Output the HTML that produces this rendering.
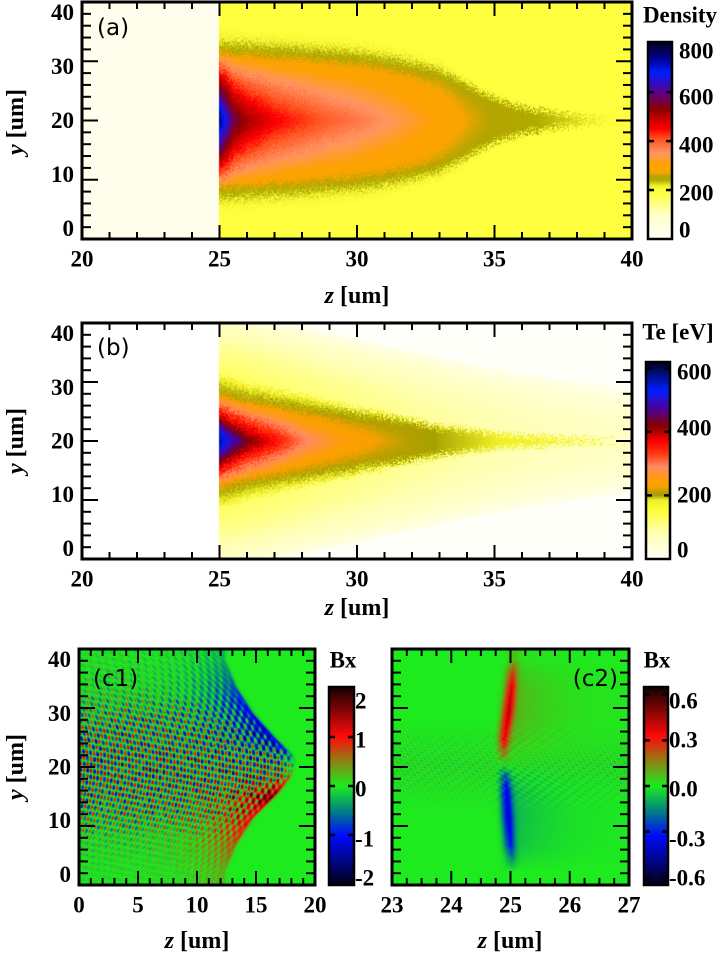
<!DOCTYPE html>
<html><head><meta charset="utf-8">
<style>
html,body{margin:0;padding:0;background:#fff;}
#root{position:relative;width:722px;height:958px;overflow:hidden;font-family:"Liberation Serif","DejaVu Serif",serif;}
canvas{position:absolute;}
svg{position:absolute;left:0;top:0;}
svg text{font-family:"Liberation Serif","DejaVu Serif",serif;font-weight:bold;}
svg text.pl{font-family:"DejaVu Sans","Liberation Sans",sans-serif;font-weight:normal;}
</style></head>
<body>
<div id="root">
<canvas id="ca" width="550" height="237" style="left:82px;top:2px"></canvas>
<canvas id="cb" width="550" height="236" style="left:82px;top:323px"></canvas>
<canvas id="cc1" width="236" height="236" style="left:79px;top:649px"></canvas>
<canvas id="cc2" width="237" height="236" style="left:392px;top:649px"></canvas>
<canvas id="cba" width="24" height="197" style="left:648px;top:42px"></canvas>
<canvas id="cbb" width="24" height="197" style="left:646px;top:362px"></canvas>
<canvas id="cbc1" width="25" height="198" style="left:329px;top:687px"></canvas>
<canvas id="cbc2" width="24" height="198" style="left:644px;top:687px"></canvas>
<svg id="ov" width="722" height="958"></svg>
</div>
<script>
// ---- data arrays ----
const zGridA = [25, 25.5, 26, 27, 28, 29, 30, 31, 32, 33, 34, 35, 36, 37, 38, 39, 40];
const densityPeak = [760, 580, 520, 460, 430, 400, 380, 355, 330, 300, 270, 255, 245, 235, 225, 215, 205];
const densityEdge = [15.5, 15.3, 15.1, 14.8, 14.4, 14, 13.5, 12.7, 11.5, 10, 7.2, 4.2, 2.6, 1.6, 0.9, 0.4, 0];
const zGridB = [25, 25.4, 26, 27, 28, 29, 30, 31, 33, 35, 37, 40];
const tePeak = [590, 510, 440, 370, 305, 268, 242, 222, 198, 186, 176, 160];
const teEdge = [11, 10.5, 9.5, 8.5, 7.5, 6.5, 5.5, 4.6, 2.6, 1.3, 0.6, 0];
const teBase = [150, 148, 145, 138, 130, 122, 115, 108, 95, 82, 70, 60];
const teWidth = [22, 22, 21.5, 20.5, 19.5, 18.5, 17.5, 16.5, 14.5, 12.5, 11, 9];
const yFront = [0, 5, 10, 15, 18, 20, 22, 25, 30, 35, 40];
const zFront = [12.3, 13.2, 14.6, 16.8, 17.9, 18.3, 18.0, 16.6, 14.6, 13.2, 12.3];
const yAmp = [0, 4, 8, 12, 14, 16, 18, 20, 22, 24, 26, 28, 32, 36, 40];
const frontAmp = [0.3, 0.6, 0.9, 1.2, 1.8, 1.1, 0.4, 0, -0.5, -1.2, -1.3, -1.2, -1.0, -0.6, -0.3];
const dyWave = [0, 4, 8, 11, 14, 18, 22];
const waveAmp = [1.4, 1.3, 1.1, 0.8, 0.4, 0.25, 0.15];
const yStrip = [0, 3, 5, 10, 15, 18, 20, 22, 25, 30, 35, 38, 40];
const zStrip = [25.0, 25.0, 24.98, 24.95, 24.92, 24.9, 24.88, 24.87, 24.88, 24.95, 25.0, 25.02, 25.05];
const stripAmp = [0, -0.15, -0.25, -0.33, -0.3, -0.18, 0, 0.12, 0.28, 0.36, 0.3, 0.18, 0.06];
const densTicks = [0, 200, 400, 600, 800];
const teTicks = [0, 200, 400, 600];
const bx1Ticks = [-2, -1, 0, 1, 2];
const bx2Ticks = ["-0.6", "-0.3", "0.0", "0.3", "0.6"];

const densMap = [[0,[255,255,250]],[100,[255,255,200]],[190,[255,255,64]],[215,[245,245,50]],[240,[175,170,0]],[256,[180,165,0]],[272,[250,165,0]],[305,[255,162,0]],[350,[255,150,100]],[410,[255,80,30]],[450,[255,0,0]],[530,[140,0,0]],[600,[90,0,140]],[680,[0,30,255]],[740,[0,0,140]],[805,[0,0,30]]];
const teMap = [[0,[255,255,250]],[80,[255,255,180]],[150,[255,255,60]],[185,[240,240,40]],[200,[165,160,0]],[210,[180,160,0]],[225,[245,160,0]],[245,[255,160,0]],[290,[255,140,100]],[330,[255,60,20]],[370,[255,0,0]],[420,[130,0,0]],[470,[80,0,150]],[530,[0,30,255]],[620,[0,0,30]]];
const bxMap = [[-1,[0,0,20]],[-0.5,[0,10,255]],[-0.25,[0,130,130]],[0,[30,235,30]],[0.25,[140,130,20]],[0.5,[255,10,10]],[1,[20,0,0]]];

function interp(xs, ys, x){
  if(x<=xs[0]) return ys[0];
  for(let i=1;i<xs.length;i++){ if(x<=xs[i]){const t=(x-xs[i-1])/(xs[i]-xs[i-1]);return ys[i-1]+t*(ys[i]-ys[i-1]);} }
  return ys[ys.length-1];
}
function cmap(m, v){
  if(!(v>m[0][0])) return m[0][1];
  for(let i=1;i<m.length;i++){ if(v<=m[i][0]){const t=(v-m[i-1][0])/(m[i][0]-m[i-1][0]);const a=m[i-1][1],b=m[i][1];return [a[0]+t*(b[0]-a[0]),a[1]+t*(b[1]-a[1]),a[2]+t*(b[2]-a[2])];} }
  return m[m.length-1][1];
}
function hash(i,j){let h=(i*374761393+j*668265263)|0;h=(h^(h>>>13))*1274126177|0;return ((h^(h>>>16))&1023)/1023;}
function paint(id, fn){
  const c=document.getElementById(id),ctx=c.getContext('2d'),W=c.width,H=c.height;
  const img=ctx.createImageData(W,H);
  for(let py=0;py<H;py++)for(let px=0;px<W;px++){
    const col=fn(px,py,W,H);const k=(py*W+px)*4;
    img.data[k]=col[0];img.data[k+1]=col[1];img.data[k+2]=col[2];img.data[k+3]=255;
  }
  ctx.putImageData(img,0,0);
}
// panel a
paint('ca',(px,py,W,H)=>{
  const z=20+(px+0.5)/W*20, y=40-(py+0.5)/H*40;
  if(z<25) return [255,253,236];
  const pk=interp(zGridA,densityPeak,z), r=interp(zGridA,densityEdge,z);
  const d=Math.abs(Math.abs(y-20)+(hash(px,py)-0.5)*1.8);
  let v=190;
  if(r>0.05 && d<r){const u=d/r;const pl=Math.min(62,pk-190);
    v=190+pl*Math.min(1,(1-u)/0.25)+Math.max(0,pk-252)*Math.pow(Math.max(0,1-u/0.75),0.8);}
  return cmap(densMap,v);
});
// panel b
paint('cb',(px,py,W,H)=>{
  const z=20+(px+0.5)/W*20, y=40-(py+0.5)/H*40;
  if(z<25) return [255,255,255];
  const pk=interp(zGridB,tePeak,z), r=interp(zGridB,teEdge,z), b=interp(zGridB,teBase,z), w=interp(zGridB,teWidth,z);
  const d0=Math.abs(y-20), d=Math.abs(d0+(hash(px,py)-0.5)*1.6);
  let v=d0<w? b*Math.pow(1-(d0/w)*(d0/w),0.6):0;
  if(r>0.05 && d<r){const u=d/r;const pl=Math.min(25,pk-180);
    v=Math.max(v,180+pl*Math.min(1,(1-u)/0.3)+Math.max(0,pk-205)*Math.pow(Math.max(0,1-u/0.75),1.0));}
  return cmap(teMap,v);
});
// panel c1
paint('cc1',(px,py,W,H)=>{
  const z=(px+0.5)/W*20, y=42-(py+0.5)/H*44.5;
  const zf=interp(yFront,zFront,y), dz=zf-z, a=interp(yAmp,frontAmp,y);
  let v;
  if(dz<0){v=a*Math.exp(dz/0.12);}
  else{
    v=a*Math.exp(-dz/2.6);
    const dy=Math.abs(y-20), wa=interp(dyWave,waveAmp,dy)*Math.min(1,dz/1.5+0.3);
    v+=wa*Math.sin(2*Math.PI*(z*1.7+(y-20)*(y-20)/70))*Math.sin(2*Math.PI*((y-20)/2.3+z*0.18))*(0.6+0.8*hash(Math.floor(px/4),Math.floor(py/3)));
  }
  return cmap(bxMap,v/2.02);
});
// panel c2
paint('cc2',(px,py,W,H)=>{
  const z=23+(px+0.5)/W*4, y=42-(py+0.5)/H*44.5;
  const zs=interp(yStrip,zStrip,y), a=interp(yStrip,stripAmp,y), dz=z-zs;
  let v=a*Math.exp(-(dz*dz)/(2*0.07*0.07));
  if(dz>0) v+=a*0.3*Math.exp(-dz/0.7);
  const dy=Math.abs(y-20);
  if(dy<9){v+=0.08*(1-dy/9)*Math.sin(2*Math.PI*(z*6+y*0.3))*Math.sin(2*Math.PI*(y/1.1+z*0.8));}
  return cmap(bxMap,v/0.65);
});
function vbar(id,m,lo,hi){paint(id,(px,py,W,H)=>cmap(m,hi-(py+0.5)/H*(hi-lo)));}
vbar('cba',densMap,0,805);
vbar('cbb',teMap,0,620);
vbar('cbc1',bxMap,-1,1);
vbar('cbc2',bxMap,-1,1);

// ---- axes overlay ----
const svg=document.getElementById('ov'), NS='http://www.w3.org/2000/svg';
const SERIF='font-family:"Liberation Serif","DejaVu Serif",serif;font-weight:bold;';
function el(tag,attrs,parent){const e=document.createElementNS(NS,tag);for(const k in attrs)e.setAttribute(k,attrs[k]);(parent||svg).appendChild(e);return e;}
function txt(x,y,s,anchor,size){const t=el('text',{x:x,y:y,'text-anchor':anchor||'middle','dominant-baseline':'central','font-size':size||23,style:SERIF});t.textContent=s;return t;}
function frame(name,L,T,R,B,x0,x1,xMaj,xMin,xLabels,showY){
  const g=el('g',{});
  
  
  el('rect',{x:L,y:T,width:R-L,height:B-T,fill:'none',stroke:'#000','stroke-width':3},g);
  const X=v=>L+(v-x0)/(x1-x0)*(R-L), Y=v=>B-v/40*(B-T);
  for(let v=x0;v<=x1+1e-9;v+=xMin){const maj=Math.abs(v/xMaj-Math.round(v/xMaj))<1e-6;const len=maj?14:7;
    el('line',{x1:X(v),x2:X(v),y1:B,y2:B-len,stroke:'#000','stroke-width':2},g);
    el('line',{x1:X(v),x2:X(v),y1:T,y2:T+len,stroke:'#000','stroke-width':2},g);}
  for(let v=0;v<=40;v+=2){const maj=v%10===0;const len=maj?16:9;
    el('line',{x1:L,x2:L+len,y1:Y(v),y2:Y(v),stroke:'#000','stroke-width':2},g);
    el('line',{x1:R,x2:R-len,y1:Y(v),y2:Y(v),stroke:'#000','stroke-width':2},g);}
  const mid=(T+B)/2;
  if(showY){for(let v=0;v<=40;v+=10){const t=txt(L-8,mid+(Y(v)-mid)*0.91,String(v),'end');
    
    }}
  xLabels.forEach(v=>{const t=txt(X(v),B+20,String(v));
    
    });
}
frame('panel-a-axes',82,2,632,239,20,40,5,1,[20,25,30,35,40],true);
frame('panel-b-axes',82,323,632,559,20,40,5,1,[20,25,30,35,40],true);
frame('panel-c1-axes',79,649,315,885,0,20,5,1,[0,5,10,15,20],true);
frame('panel-c2-axes',392,649,629,885,23,27,1,0.25,[23,24,25,26,27],false);

function cbar(name,L,T,R,B,lo,hi,vals,labels,labelYs,labelX){
  const g=el('g',{});
  
  
  el('rect',{x:L,y:T,width:R-L,height:B-T,fill:'none',stroke:'#000','stroke-width':2.5},g);
  vals.forEach((v,i)=>{const y=B-(v-lo)/(hi-lo)*(B-T);
    if(y>T+4&&y<B-4){el('line',{x1:L,x2:L+6,y1:y,y2:y,stroke:'#000','stroke-width':2.5},g);el('line',{x1:R,x2:R-6,y1:y,y2:y,stroke:'#000','stroke-width':2.5},g);}
    const t=txt(labelX,labelYs[i],labels[i],'start');
    
    });
}
cbar('density-colorbar-frame',648,42,672,239,0,805,densTicks,densTicks.map(String),[230,193,145,97,51],679);
cbar('te-colorbar-frame',646,362,670,559,0,620,teTicks,teTicks.map(String),[550,495,428,372],677);
cbar('bx-c1-colorbar-frame',329,687,354,885,-2.02,2.02,bx1Ticks,bx1Ticks.map(String),[878,839,789,740,701],355);
cbar('bx-c2-colorbar-frame',644,687,668,885,-0.65,0.65,bx2Ticks.map(Number),bx2Ticks,[878,839,789,740,701],669);

const T1=txt(680,15,'Density','middle',23);


const T2=txt(678,332,'Te [eV]','middle',23);


const T3=txt(343,660,'Bx','middle',23);


const T4=txt(657,660,'Bx','middle',23);


function ztitle(x,y,name){const t=el('text',{x:x,y:y,'text-anchor':'middle','dominant-baseline':'central','font-size':24,style:SERIF});
  t.innerHTML='<tspan font-style="italic">z</tspan> [um]';
  
  }
ztitle(357,296,'x-axis-title-a');ztitle(357,608,'x-axis-title-b');ztitle(197,941,'x-axis-title-c1');ztitle(510,941,'x-axis-title-c2');
function ytitle(cy,name){const t=el('text',{x:0,y:0,transform:'translate(16,'+cy+') rotate(-90)','text-anchor':'middle','dominant-baseline':'central','font-size':24,style:SERIF});
  t.innerHTML='<tspan font-style="italic">y</tspan> [um]';
  
  }
ytitle(122,'y-axis-title-a');ytitle(441,'y-axis-title-b');ytitle(767,'y-axis-title-c1');
function plabel(x,y,s,anchor,name){const t=el('text',{x:x,y:y,'text-anchor':anchor,'dominant-baseline':'central','font-size':23,'class':'pl',style:'font-family:"DejaVu Sans","Liberation Sans",sans-serif;font-weight:normal;'});
  t.textContent=s;
  
  }
plabel(97,28,'(a)','start','panel-label-a');
plabel(97,348,'(b)','start','panel-label-b');
plabel(93,679,'(c1)','start','panel-label-c1');
plabel(618,679,'(c2)','end','panel-label-c2');
</script>
</body></html>
